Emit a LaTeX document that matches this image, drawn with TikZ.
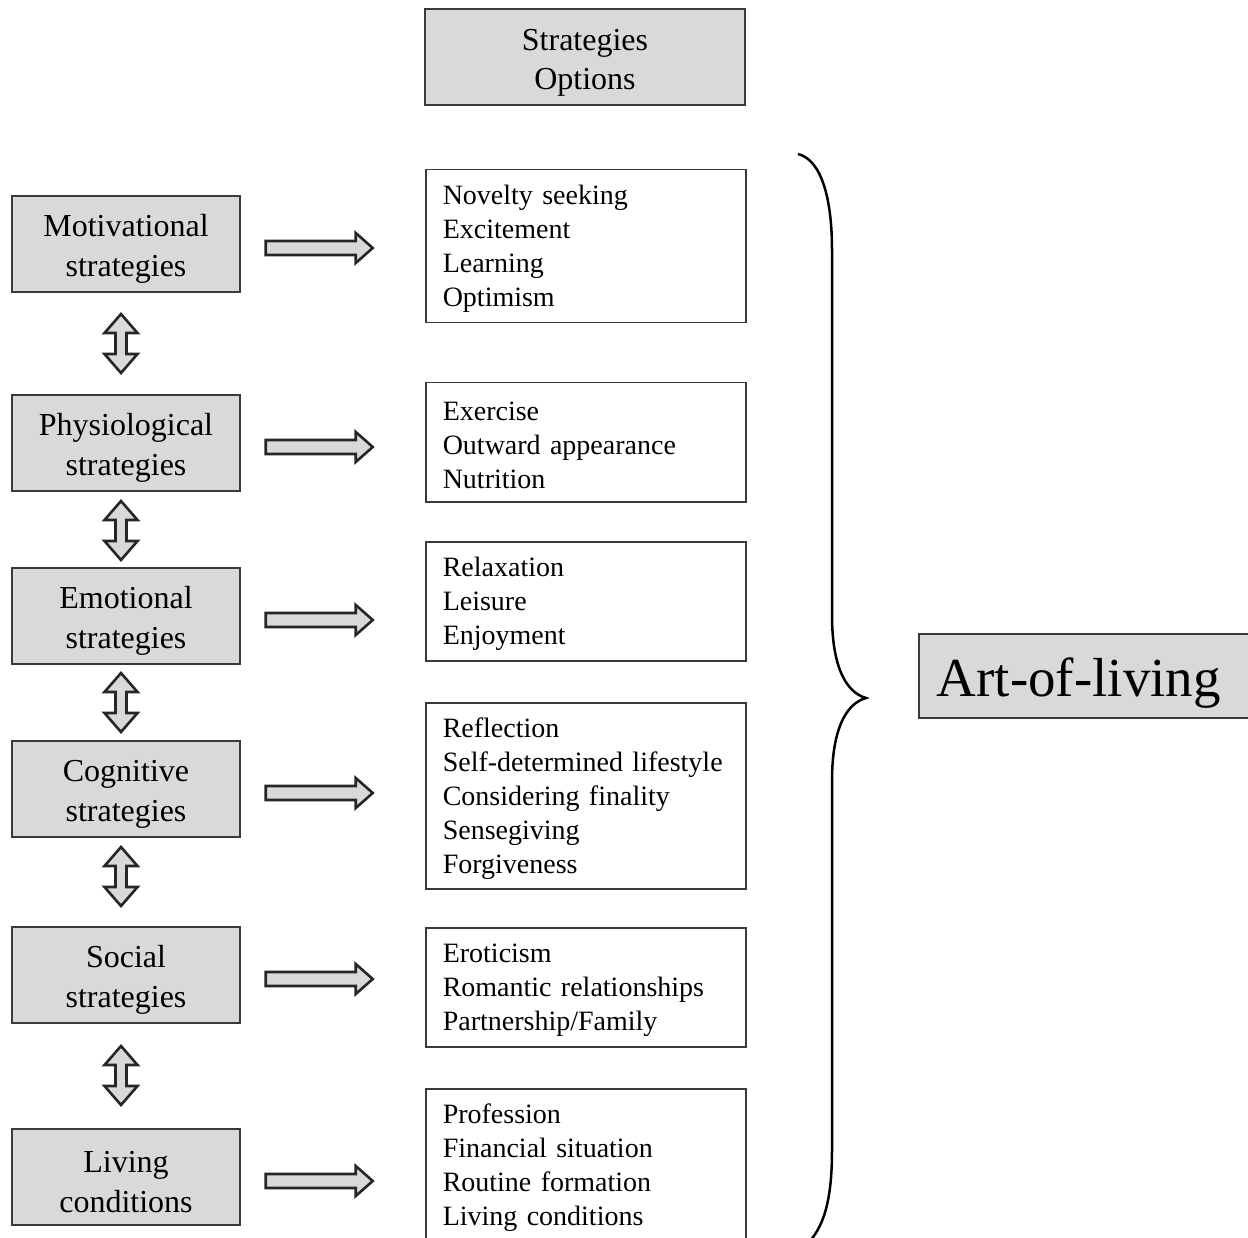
\documentclass[tikz,border=0pt]{standalone}
\usepackage{fontspec}
\setmainfont{Liberation Serif}
\usetikzlibrary{calc}
\definecolor{boxfill}{HTML}{D9D9D9}
\definecolor{boxline}{HTML}{3A3A3A}

\begin{document}
\begin{tikzpicture}[x=1pt,y=-1pt,
  lbox/.style={draw=boxline, line width=1.5pt, fill=boxfill, minimum width=228pt,
    minimum height=96pt, inner sep=0pt, align=center, text height=72pt,
    font=\fontsize{32}{40}\selectfont},
  obox/.style={draw=boxline, line width=1.5pt, fill=white, anchor=north west,
    text width=286pt, inner xsep=17pt, inner ysep=0pt, align=left, text height=25pt,
    font=\fontsize{28}{34}\selectfont},
  blockarrow/.style={draw=black!85, line width=2.6pt, fill=boxfill, line join=miter},
  brace/.style={draw=black, line width=2.5pt}
]
\useasboundingbox (0,0) rectangle (1248,1238);
\clip (0,0) rectangle (1248,1238);

% column header
\node[lbox, minimum width=320pt, text height=71pt, font=\fontsize{32}{39}\selectfont]
  (head) at (585,57) {Strategies\\Options};

% strategy boxes
\node[lbox] (m1) at (126,244)  {Motivational\\strategies};
\node[lbox] (m2) at (126,443)  {Physiological\\strategies};
\node[lbox] (m3) at (126,616)  {Emotional\\strategies};
\node[lbox] (m4) at (126,789)  {Cognitive\\strategies};
\node[lbox] (m5) at (126,975)  {Social\\strategies};
\node[lbox] (m6) at (126,1177) {Living\\conditions};

% option boxes
\node[obox, minimum height=153pt] (o1) at (425,169)
  {Novelty seeking\\Excitement\\Learning\\Optimism};
\node[obox, minimum height=119pt] (o2) at (425,382)
  {Exercise\\Outward appearance\\Nutrition};
\node[obox, minimum height=119pt] (o3) at (425,541)
  {Relaxation\\Leisure\\Enjoyment};
\node[obox, minimum height=186pt] (o4) at (425,702)
  {Reflection\\Self-determined lifestyle\\Considering finality\\Sensegiving\\Forgiveness};
\node[obox, minimum height=119pt] (o5) at (425,927)
  {Eroticism\\Romantic relationships\\Partnership/Family};
\node[obox, minimum height=153pt] (o6) at (425,1088)
  {Profession\\Financial situation\\Routine formation\\Living conditions};

% result box
\node[draw=boxline, line width=1.5pt, fill=boxfill, anchor=west, minimum height=84pt,
  text width=340pt, inner xsep=18pt, inner ysep=0pt, align=left, text height=53pt,
  font=\fontsize{55}{60}\selectfont] (art) at (918,676) {Art-of-living};

% block arrows from strategies to options
\foreach \s in {m1,m2,m3,m4,m5,m6}{
  \draw[blockarrow] ($(\s.east)+(25,-3)$) -- ++(90,0) -- ++(0,-8) -- ++(17,15)
    -- ++(-17,15) -- ++(0,-8) -- ++(-90,0) -- cycle;
}

% two-way arrows between strategies
\coordinate (d1) at (121,314);
\coordinate (d2) at (121,501);
\coordinate (d3) at (121,673);
\coordinate (d4) at (121,847);
\coordinate (d5) at (121,1046);
\foreach \d in {d1,d2,d3,d4,d5}{
  \draw[blockarrow] (\d) -- ++(16.5,19) -- ++(-11,0) -- ++(0,21) -- ++(11,0)
    -- ++(-16.5,19) -- ++(-16.5,-19) -- ++(11,0) -- ++(0,-21) -- ++(-11,0) -- cycle;
}

% curly brace gathering all options
\coordinate (btop) at (798,154);
\coordinate (btip) at (866,698);
\coordinate (bbot) at (806,1245);
\draw[brace] (btop) .. controls (822,160) and (832,200) .. (832,250)
  -- (832,615) .. controls (832,665) and (845,692) .. (btip)
  .. controls (845,704) and (832,731) .. (832,781)
  -- (832,1150) .. controls (832,1200) and (824,1228) .. (bbot);
\end{tikzpicture}
\end{document}
